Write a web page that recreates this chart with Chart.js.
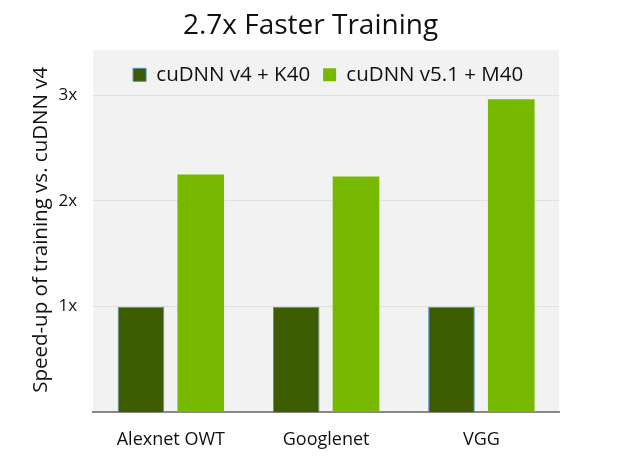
<!DOCTYPE html>
<html>
<head>
<meta charset="utf-8">
<script src="https://cdn.jsdelivr.net/npm/chart.js@4"></script>
<style>
  html, body { margin: 0; padding: 0; background: #fff; }
  #wrap { width: 621px; height: 457px; }
</style>
</head>
<body>
<div id="wrap"><canvas id="chart"></canvas></div>
<script>
// datos
const categorias = ['Alexnet OWT', 'Googlenet', 'VGG'];
const serieK40 = [1, 1, 1];
const serieM40 = [2.25, 2.23, 2.96];
const ticksY = [1, 2, 3];

const fuente = "'Open Sans', 'DejaVu Sans', sans-serif";

// fondo gris detrás de la leyenda y las barras
const fondoGris = {
    id: 'fondoGris',
    afterLayout(chart) {
        // leyenda centrada sobre el área del gráfico, título sobre el lienzo
        const lg = chart.legend, ca = chart.chartArea, tt = chart.titleBlock;
        const dx = (ca.left + ca.right) / 2 + 2 - (lg.left + lg.right) / 2;
        lg.left += dx; lg.right += dx;
        const dt = chart.width / 2 - (tt.left + tt.right) / 2;
        tt.left += dt; tt.right += dt;
    },
    beforeDraw(chart) {
        const {ctx, chartArea} = chart;
        ctx.save();
        ctx.fillStyle = '#f2f2f2';
        ctx.fillRect(chartArea.left, 50, chartArea.right - chartArea.left, chartArea.bottom - 50);
        ctx.restore();
    }
};

new Chart(document.getElementById('chart').getContext('2d'), {
    type: 'bar',
    data: {
        labels: categorias,
        datasets: [{
            label: 'cuDNN v4 + K40',
            data: serieK40,
            backgroundColor: '#3d5c00',
            borderColor: '#4a8fc4',
            borderWidth: 1
        }, {
            label: 'cuDNN v5.1 + M40',
            data: serieM40,
            backgroundColor: '#76b900',
            borderWidth: 0
        }]
    },
    options: {
        responsive: true,
        maintainAspectRatio: false,
        animation: false,
        categoryPercentage: 0.77,
        barPercentage: 0.78,
        layout: {padding: {left: 29, right: 62, bottom: -3}},
        plugins: {
            title: {
                display: true,
                text: '2.7x Faster Training',
                color: '#111',
                font: {family: fuente, size: 28, weight: 'normal'},
                padding: {top: 9, bottom: 9}
            },
            legend: {
                position: 'top',
                labels: {
                    color: '#111',
                    font: {family: fuente, size: 20.5},
                    boxWidth: 13,
                    boxHeight: 13,
                    padding: 13
                }
            },
            tooltip: {enabled: false}
        },
        scales: {
            x: {
                grid: {display: false},
                border: {color: '#888', width: 2},
                ticks: {color: '#111', font: {family: fuente, size: 18}, padding: 9}
            },
            y: {
                min: 0,
                max: 3,
                afterBuildTicks(axis) {
                    axis.ticks = [0].concat(ticksY).map(v => ({value: v}));
                },
                grid: {color: '#e0e0e0', drawTicks: false},
                border: {display: false},
                ticks: {
                    color: '#111',
                    font: {family: fuente, size: 17},
                    padding: 16,
                    callback: v => v === 0 ? '' : v + 'x'
                },
                title: {
                    display: true,
                    // espacios iniciales: desplazan el texto hacia arriba como en la imagen
                    text: '         Speed-up of training vs. cuDNN v4',
                    color: '#111',
                    font: {family: fuente, size: 20.5},
                    padding: {top: 0, bottom: -11}
                }
            }
        }
    },
    plugins: [fondoGris]
});
</script>
</body>
</html>
